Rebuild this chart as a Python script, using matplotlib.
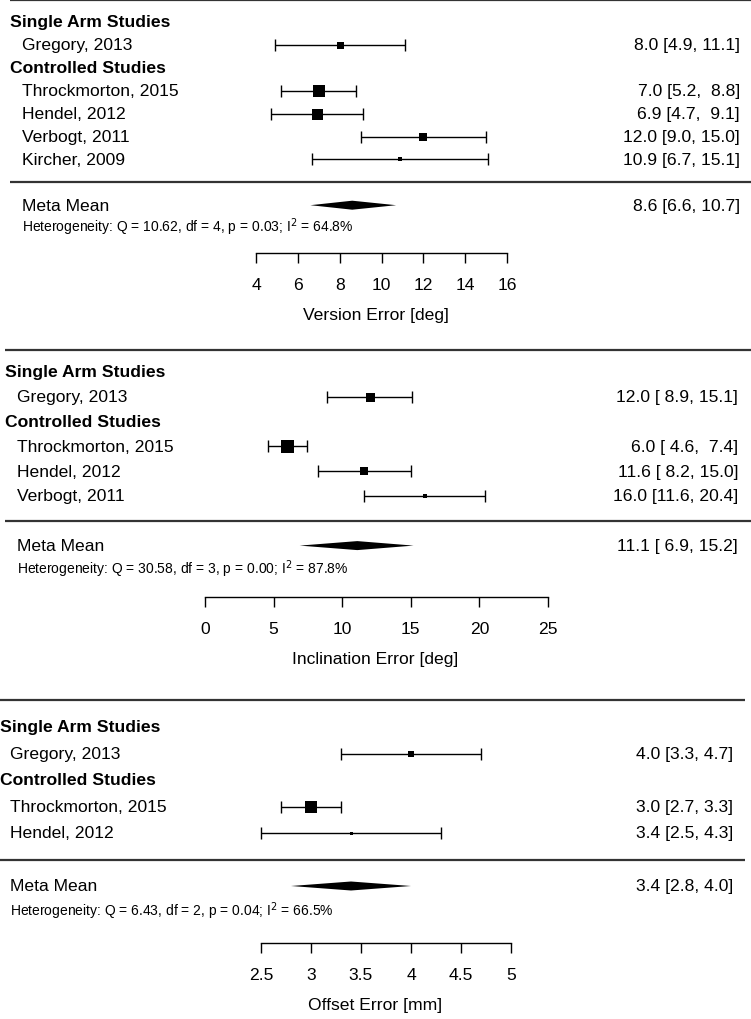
import matplotlib
matplotlib.use("Agg")
import matplotlib.pyplot as plt
import matplotlib.transforms as mtransforms

plt.rcParams['font.family'] = ['Liberation Sans', 'DejaVu Sans']
plt.rcParams['mathtext.fontset'] = 'custom'
plt.rcParams['mathtext.rm'] = 'Liberation Sans Narrow'

# ---- data ----
version_single = ["Gregory, 2013"]
version_controlled = ["Throckmorton, 2015", "Hendel, 2012", "Verbogt, 2011", "Kircher, 2009"]
version_est = [8.0, 7.0, 6.9, 12.0, 10.9]
version_lo = [4.9, 5.2, 4.7, 9.0, 6.7]
version_hi = [11.1, 8.8, 9.1, 15.0, 15.1]
version_box = [7, 12, 11, 8, 4]          # box side (px), shows study weight
version_meta = [8.6, 6.6, 10.7]
version_het = [10.62, 4, 0.03, 64.8]     # Q, df, p, I^2
version_ticks = [4, 6, 8, 10, 12, 14, 16]
version_label = "Version Error [deg]"

incl_single = ["Gregory, 2013"]
incl_controlled = ["Throckmorton, 2015", "Hendel, 2012", "Verbogt, 2011"]
incl_est = [12.0, 6.0, 11.6, 16.0]
incl_lo = [8.9, 4.6, 8.2, 11.6]
incl_hi = [15.1, 7.4, 15.0, 20.4]
incl_box = [9, 13, 8, 4]
incl_meta = [11.1, 6.9, 15.2]
incl_het = [30.58, 3, 0.00, 87.8]
incl_ticks = [0, 5, 10, 15, 20, 25]
incl_label = "Inclination Error [deg]"

offset_single = ["Gregory, 2013"]
offset_controlled = ["Throckmorton, 2015", "Hendel, 2012"]
offset_est = [4.0, 3.0, 3.4]
offset_lo = [3.3, 2.7, 2.5]
offset_hi = [4.7, 3.3, 4.3]
offset_box = [6, 12, 3]
offset_meta = [3.4, 2.8, 4.0]
offset_het = [6.43, 2, 0.04, 66.5]
offset_ticks = [2.5, 3, 3.5, 4, 4.5, 5]
offset_label = "Offset Error [mm]"

W, H = 751, 1020
FS = 12.6
HET_FONT = ['Liberation Sans Narrow', 'Liberation Sans', 'DejaVu Sans']


def fmt_ci(est, lo, hi):
    w_lo = max(len("%.1f" % v) for v in lo)
    w_hi = max(len("%.1f" % v) for v in hi)
    return ["%.1f [%*.1f, %*.1f]" % (e, w_lo, l, w_hi, h) for e, l, h in zip(est, lo, hi)]


def draw_panel(fig, single, controlled, est, lo, hi, box, meta, het, ticks, xlabel,
               top_px, axis_px, row0_px, row_h, tick_px, head_x, name_x, right_x,
               line_x0, line_x1):
    ax = fig.add_axes([0, 1 - axis_px / H, 1, (axis_px - top_px) / H])
    # x mapping from two tick positions in pixels
    b = (tick_px[1] - tick_px[0]) / (ticks[-1] - ticks[0])
    ax.set_xlim(ticks[0] - tick_px[0] / b, ticks[0] + (W - tick_px[0]) / b)
    ax.set_ylim((axis_px - row0_px) / row_h, (top_px - row0_px) / row_h)
    tr = mtransforms.blended_transform_factory(ax.transAxes, ax.transData)

    n_s = len(single)
    rows = list(range(1, 1 + n_s)) + list(range(n_s + 2, n_s + 2 + len(controlled)))
    names = single + controlled
    sep_row = rows[-1] + 1
    meta_row = sep_row + 1
    het_row = meta_row + 0.9

    # lines
    top_row = (top_px + 1 - row0_px) / row_h
    for r in [top_row, sep_row]:
        ax.plot([line_x0 / W, line_x1 / W], [r, r], color='#333333', lw=1.6,
                transform=tr, clip_on=False, solid_capstyle='butt')

    # headers
    ax.text(head_x / W, 0, "Single Arm Studies", transform=tr, fontsize=FS,
            fontweight='bold', va='center', ha='left')
    ax.text(head_x / W, n_s + 1, "Controlled Studies", transform=tr, fontsize=FS,
            fontweight='bold', va='center', ha='left')

    ci_txt = fmt_ci(est + [meta[0]], lo + [meta[1]], hi + [meta[2]])
    for i, r in enumerate(rows):
        ax.text(name_x / W, r, names[i], transform=tr, fontsize=FS, va='center', ha='left')
        ax.text(right_x / W, r, ci_txt[i], transform=tr, fontsize=FS, va='center', ha='right')
        ax.errorbar(est[i], r, xerr=[[est[i] - lo[i]], [hi[i] - est[i]]], fmt='none',
                    ecolor='black', elinewidth=1.0, capsize=4.3, capthick=1.0)
        ax.plot(est[i], r, marker='s', color='black', markersize=box[i] * 0.72,
                markeredgewidth=0)

    # meta mean diamond
    dh = 4.5 / row_h
    ax.fill([meta[1], meta[0], meta[2], meta[0]],
            [meta_row, meta_row - dh, meta_row, meta_row + dh], color='black', lw=0)
    ax.text(name_x / W, meta_row, "Meta Mean", transform=tr, fontsize=FS, va='center', ha='left')
    ax.text(right_x / W, meta_row, ci_txt[-1], transform=tr, fontsize=FS, va='center', ha='right')
    ax.text(name_x / W, het_row,
            r"Heterogeneity: Q = %.2f, df = %d, p = %.2f; I$^{2}$ = %.1f%%" % tuple(het),
            transform=tr, fontsize=10.0, family=HET_FONT, va='center', ha='left')

    # axis
    for s in ['top', 'left', 'right']:
        ax.spines[s].set_visible(False)
    ax.spines['bottom'].set_bounds(ticks[0], ticks[-1])
    ax.spines['bottom'].set_linewidth(1.0)
    ax.set_yticks([])
    ax.set_xticks(ticks)
    ax.set_xticklabels(["%g" % t for t in ticks])
    ax.tick_params(axis='x', direction='out', length=7, width=1.0, labelsize=FS, pad=10)
    ax.set_xlabel(xlabel, fontsize=FS, labelpad=11)
    ax.patch.set_alpha(0)
    return ax


fig = plt.figure(figsize=(W / 100, H / 100), dpi=100)

draw_panel(fig, version_single, version_controlled, version_est, version_lo, version_hi,
           version_box, version_meta, version_het, version_ticks, version_label,
           top_px=0, axis_px=254, row0_px=23, row_h=22.9, tick_px=(256, 507),
           head_x=10, name_x=22, right_x=740, line_x0=10, line_x1=751)

draw_panel(fig, incl_single, incl_controlled, incl_est, incl_lo, incl_hi,
           incl_box, incl_meta, incl_het, incl_ticks, incl_label,
           top_px=350, axis_px=598, row0_px=373, row_h=24.8, tick_px=(205, 548),
           head_x=5, name_x=17, right_x=738, line_x0=5, line_x1=751)

draw_panel(fig, offset_single, offset_controlled, offset_est, offset_lo, offset_hi,
           offset_box, offset_meta, offset_het, offset_ticks, offset_label,
           top_px=700, axis_px=944, row0_px=728, row_h=26.5, tick_px=(261, 511),
           head_x=0, name_x=10, right_x=733, line_x0=0, line_x1=745)

fig.savefig("out.png", dpi=100, facecolor='white')
